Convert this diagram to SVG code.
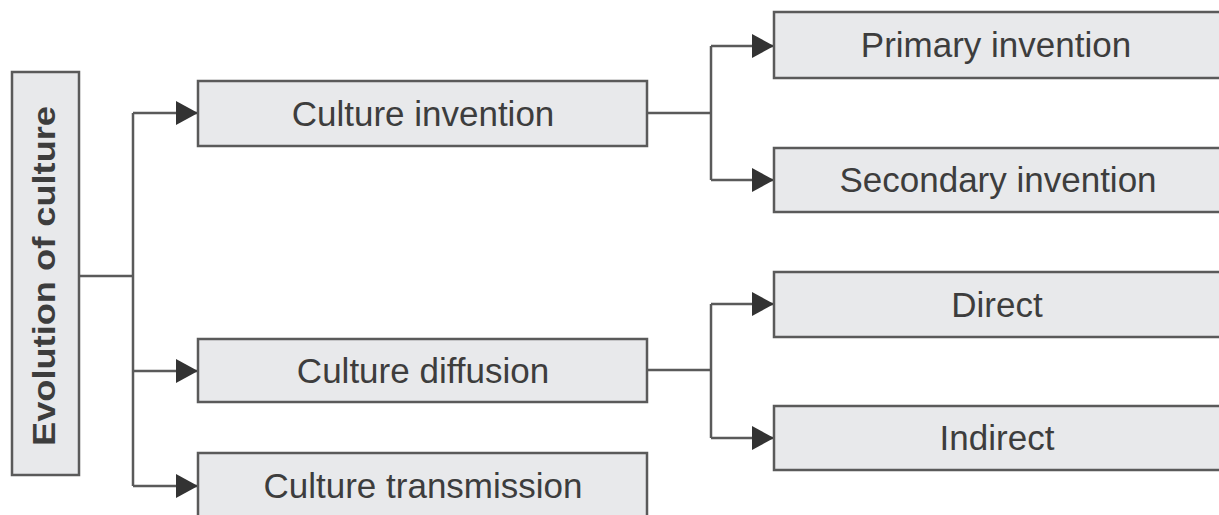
<svg xmlns="http://www.w3.org/2000/svg" width="1219" height="515" viewBox="0 0 1219 515">
<style>
.box{fill:#e8e9eb;stroke:#5a5a5a;stroke-width:2.5}
.lbl{font-family:"Liberation Sans",Arial,sans-serif;font-size:35px;fill:#3d3d3d;text-anchor:middle}
.root{font-family:"Liberation Sans",Arial,sans-serif;font-size:31px;font-weight:bold;fill:#3d3d3d;text-anchor:middle}
.ln{fill:none;stroke:#5a5a5a;stroke-width:2.5}
</style>
<defs>
<marker id="ah" markerUnits="userSpaceOnUse" markerWidth="24" markerHeight="26" refX="22" refY="12" orient="auto">
<path d="M0,0 L22,12 L0,24 Z" fill="#333"/>
</marker>
</defs>
<rect width="1219" height="515" fill="#fff"/>
<g id="connectors">
<path class="ln" d="M79,276 H133"/>
<path class="ln" d="M133,113 V486"/>
<path class="ln" d="M133,113 H198" marker-end="url(#ah)"/>
<path class="ln" d="M133,371 H198" marker-end="url(#ah)"/>
<path class="ln" d="M133,486 H198" marker-end="url(#ah)"/>
<path class="ln" d="M647,113 H711"/>
<path class="ln" d="M711,46 V180"/>
<path class="ln" d="M711,46 H774" marker-end="url(#ah)"/>
<path class="ln" d="M711,180 H774" marker-end="url(#ah)"/>
<path class="ln" d="M647,370 H711"/>
<path class="ln" d="M711,304 V438"/>
<path class="ln" d="M711,304 H774" marker-end="url(#ah)"/>
<path class="ln" d="M711,438 H774" marker-end="url(#ah)"/>
</g>
<g id="evolution">
<rect class="box" x="12" y="72" width="67" height="403"/>
<text class="root" transform="translate(55,276) rotate(-90)" textLength="340" lengthAdjust="spacingAndGlyphs">Evolution of culture</text>
</g>
<g id="invention">
<rect class="box" x="198" y="81" width="449" height="65"/>
<text class="lbl" x="423" y="126">Culture invention</text>
</g>
<g id="diffusion">
<rect class="box" x="198" y="339" width="449" height="63"/>
<text class="lbl" x="423" y="383">Culture diffusion</text>
</g>
<g id="transmission">
<rect class="box" x="198" y="453" width="449" height="66"/>
<text class="lbl" x="423" y="498">Culture transmission</text>
</g>
<g id="primary">
<rect class="box" x="774" y="12" width="450" height="66"/>
<text class="lbl" x="996" y="57">Primary invention</text>
</g>
<g id="secondary">
<rect class="box" x="774" y="148" width="450" height="64"/>
<text class="lbl" x="998" y="192">Secondary invention</text>
</g>
<g id="direct">
<rect class="box" x="774" y="272" width="450" height="65"/>
<text class="lbl" x="997" y="317">Direct</text>
</g>
<g id="indirect">
<rect class="box" x="774" y="406" width="450" height="64"/>
<text class="lbl" x="997" y="450">Indirect</text>
</g>
</svg>
